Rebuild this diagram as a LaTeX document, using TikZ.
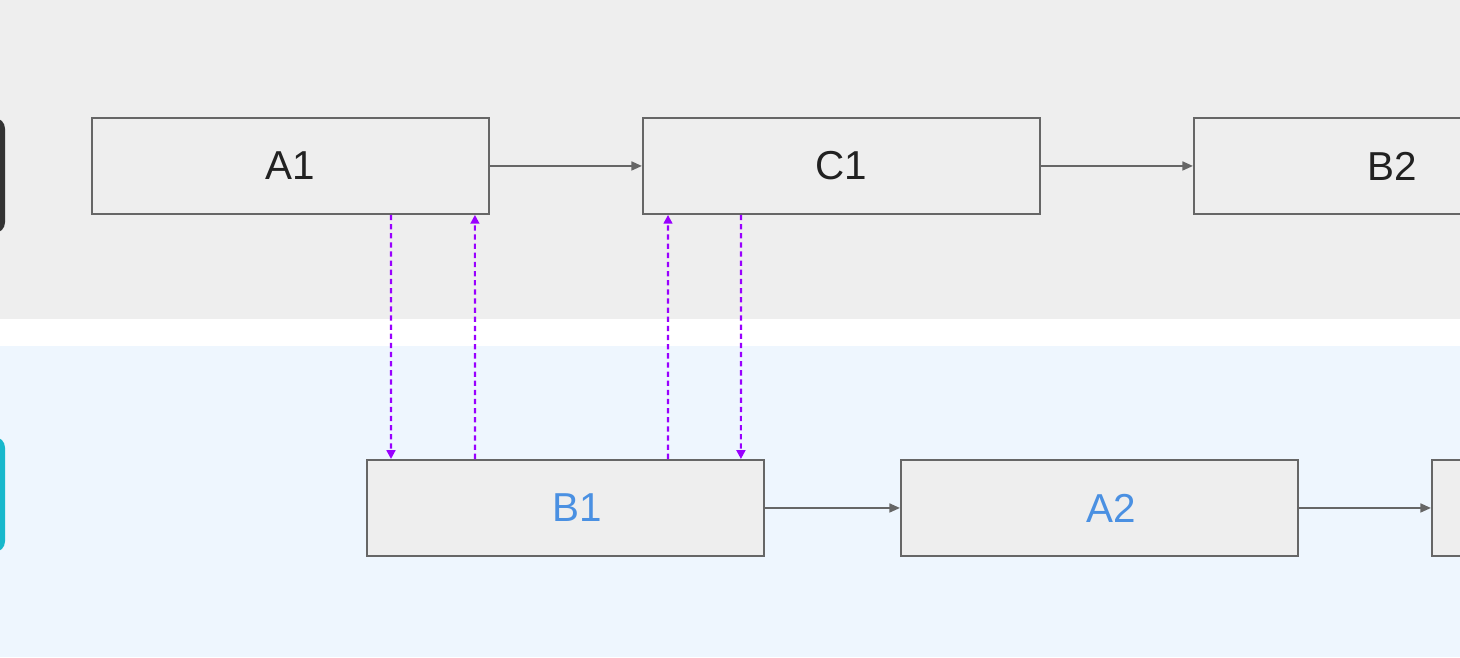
\documentclass[tikz,border=0pt]{standalone}
\usepackage{fontspec}
\setmainfont{Liberation Sans}
\usetikzlibrary{arrows.meta}
\definecolor{topbg}{HTML}{EEEEEE}
\definecolor{botbg}{HTML}{EEF6FE}
\definecolor{boxgray}{HTML}{EEEEEE}
\definecolor{linegray}{HTML}{666666}
\definecolor{darklane}{HTML}{333333}
\definecolor{cyanlane}{HTML}{17B8CC}
\definecolor{syncpurple}{HTML}{9900FF}
\definecolor{textblue}{HTML}{4A90E2}

\begin{document}
\begin{tikzpicture}[x=0.02cm,y=-0.02cm]
\tikzstyle{every node}+=[inner sep=0pt]
\tikzstyle{stepbox}=[draw=linegray, line width=1.1pt, fill=boxgray, minimum width=7.94cm, minimum height=1.92cm, anchor=north west, font=\fontsize{23}{27}\selectfont, text=black!87]
\tikzstyle{flow}=[draw=linegray, line width=1.2pt, -{Triangle[length=6pt,width=5pt]}]
\tikzstyle{sync}=[draw=syncpurple, line width=1.2pt, dash pattern=on 3pt off 2.2pt, -{Triangle[length=5pt,width=5pt]}]
\clip (0,0) rectangle (1460,657);
% lanes
\fill [topbg] (0,0) rectangle (1460,319);
\fill [botbg] (0,346) rectangle (1460,657);
\fill [darklane, rounded corners=6pt] (-40,118) rectangle (5,233);
\fill [cyanlane, rounded corners=6pt] (-40,437) rectangle (5,552);
% top lane
\node [stepbox] (a1) at (91,117) {A1};
\node [stepbox] (c1) at (642,117) {C1};
\node [stepbox] (b2) at (1193,117) {B2};
% bottom lane
\node [stepbox, text=textblue] (b1) at (366,459) {\hspace*{0.46cm}B1};
\node [stepbox, text=textblue] (a2) at (900,459) {\hspace*{0.46cm}A2};
\node [stepbox] (next) at (1431,459) {};
% flow
\draw [flow] (a1.east) -- (c1.west);
\draw [flow] (c1.east) -- (b2.west);
\draw [flow] (b1.east) -- (a2.west);
\draw [flow] (a2.east) -- (next.west);
% sync between lanes
\draw [sync] ([xshift=6cm]a1.south west) -- ([xshift=0.5cm]b1.north west);
\draw [sync] ([xshift=2.18cm]b1.north west) -- ([xshift=7.68cm]a1.south west);
\draw [sync] ([xshift=6.04cm]b1.north west) -- ([xshift=0.52cm]c1.south west);
\draw [sync] ([xshift=1.98cm]c1.south west) -- ([xshift=7.5cm]b1.north west);
\end{tikzpicture}
\end{document}
